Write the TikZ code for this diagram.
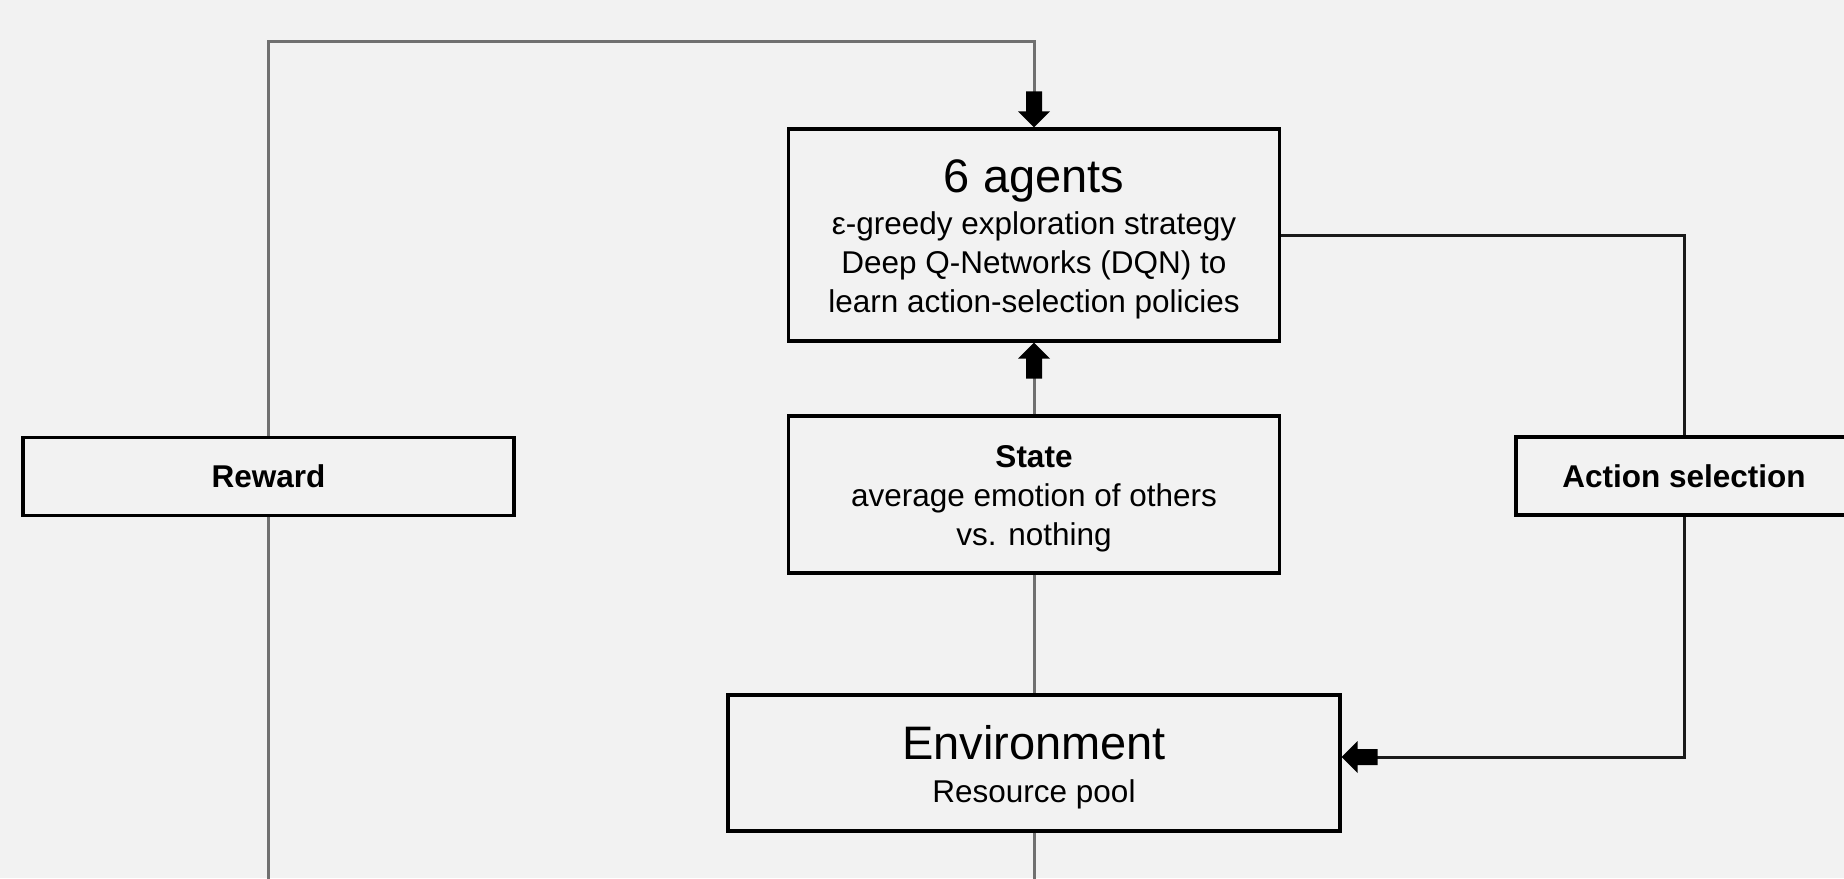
\documentclass[tikz,border=0pt]{standalone}
\usepackage{fontspec}
\setmainfont{Liberation Sans}
\definecolor{bg}{HTML}{F2F2F2}
\definecolor{linegray}{HTML}{707070}
\definecolor{lineblack}{HTML}{1A1A1A}
\tikzset{
  box/.style={draw=black, line width=3.2pt, fill=bg, rectangle, inner sep=0pt,
    align=center, font=\fontsize{31.5}{39}\selectfont},
  txt/.style={inner sep=0pt, align=center, font=\fontsize{31.5}{39}\selectfont},
  glink/.style={draw=linegray, line width=3pt},
  blink/.style={draw=lineblack, line width=3pt},
  blockarrow/.pic={\fill[black] (0,0) -- (-16,-16) -- (-16,-8) -- (-36,-8) -- (-36,8) -- (-16,8) -- (-16,16) -- cycle;},
}
\newcommand{\headfont}{\fontsize{47}{47}\selectfont}
\begin{document}
\begin{tikzpicture}[x=1pt, y=-1pt]
\useasboundingbox (0,0) rectangle (1844,878);
\fill[bg] (0,0) rectangle (1844,878);
\clip (0,0) rectangle (1844,878);

\coordinate (topy) at (0,41);
\coordinate (bottom) at (0,900);

\node[box, minimum width=491pt, minimum height=212pt] (agents) at (1034,235) {};
\node[txt] (agentstext) at ([yshift=-4.5pt]agents.center)
  {{\headfont 6 agents}\\[3pt] ε-greedy exploration strategy\\ Deep Q-Networks (DQN) to\\ learn action-selection policies};
\node[box, minimum width=491pt, minimum height=157pt] (state) at (1034,494.5) {};
\node[txt] (statetext) at ([yshift=-4.5pt]state.center)
  {\textbf{State}\\ average emotion of others\\ vs. nothing};
\node[box, minimum width=612pt, minimum height=136pt] (env) at (1034,763) {};
\node[txt] (envtext) at ([yshift=-4.5pt]env.center)
  {{\headfont Environment}\\[4pt] Resource pool};
\node[box, minimum width=491pt, minimum height=78pt] (reward) at (268.5,476.5)
  {\textbf{Reward}};
\node[box, minimum width=336pt, minimum height=78pt] (action) at (1684,476)
  {\textbf{Action selection}};

\coordinate (envin) at ([yshift=6pt]env.east);

\draw[glink, shorten >=12pt] (reward.north) -- (reward.north |- topy) -- (agents.north |- topy) -- (agents.north);
\draw[glink, shorten >=12pt] (state.north) -- (agents.south);
\draw[glink] (state.south) -- (env.north);
\draw[glink] (env.south) -- (env.south |- bottom);
\draw[glink] (reward.south) -- (reward.south |- bottom);
\draw[blink] (agents.east) -| (action.north);
\draw[blink, shorten >=12pt] (action.south) |- (envin);

\path (agents.north) pic[rotate=-90] {blockarrow};
\path (agents.south) pic[rotate=90] {blockarrow};
\path (envin) pic[rotate=180] {blockarrow};
\end{tikzpicture}
\end{document}
